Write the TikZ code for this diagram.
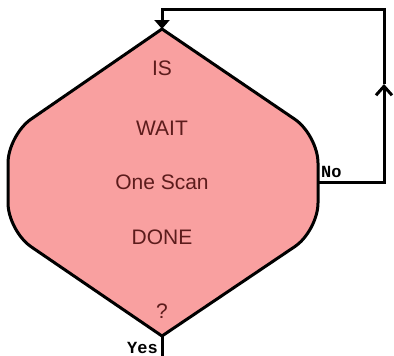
\documentclass[tikz,border=0pt]{standalone}
\usepackage{fontspec}
\setmainfont{Liberation Sans}
\newfontfamily\monobold{Liberation Mono}
\usetikzlibrary{arrows.meta,calc}
\definecolor{decfill}{HTML}{F9A0A0}
\definecolor{dectext}{HTML}{5C1C1C}
\tikzset{
  decline/.style={line width=3pt, line join=miter, draw=black},
  dectxt/.style={text=dectext, font=\fontsize{21}{24}\selectfont, inner sep=0pt, anchor=center},
  branchlbl/.style={font=\monobold\bfseries\fontsize{17}{19}\selectfont, inner sep=0pt, text=black},
  flow/.style={line width=3pt, line join=miter, line cap=butt}
}
\begin{document}
\begin{tikzpicture}[x=1pt,y=-1pt]
\useasboundingbox (0,0) rectangle (394,356);
\def\r{28pt}
\coordinate (T) at (162,29);
\coordinate (UR) at (318,135);
\coordinate (LR) at (318,231);
\coordinate (B) at (162,336);
\coordinate (LL) at (8,231);
\coordinate (UL) at (8,135);
\coordinate (E) at (318,182);
\coordinate (n1) at (384,182);
\coordinate (nm) at (384,84);
\coordinate (n2) at (384,9);
\coordinate (n3) at (162,9);
\coordinate (yend) at (162,356);
% corner points
\coordinate (URa) at ($(UR)!\r!(T)$);  \coordinate (URb) at ($(UR)!\r!(LR)$);
\coordinate (LRa) at ($(LR)!\r!(UR)$); \coordinate (LRb) at ($(LR)!\r!(B)$);
\coordinate (LLa) at ($(LL)!\r!(B)$);  \coordinate (LLb) at ($(LL)!\r!(UL)$);
\coordinate (ULa) at ($(UL)!\r!(LL)$); \coordinate (ULb) at ($(UL)!\r!(T)$);
\filldraw[decline, fill=decfill]
  (T) -- (URa) .. controls ($(URa)!0.55!(UR)$) and ($(URb)!0.55!(UR)$) .. (URb)
  -- (LRa) .. controls ($(LRa)!0.55!(LR)$) and ($(LRb)!0.55!(LR)$) .. (LRb)
  -- (B) -- (LLa) .. controls ($(LLa)!0.55!(LL)$) and ($(LLb)!0.55!(LL)$) .. (LLb)
  -- (ULa) .. controls ($(ULa)!0.55!(UL)$) and ($(ULb)!0.55!(UL)$) .. (ULb) -- cycle;
\node[dectxt] (t1) at (162,68) {IS};
\node[dectxt] (t2) at (162,128) {WAIT};
\node[dectxt] (t3) at (162,182) {One Scan};
\node[dectxt] (t4) at (162,237) {DONE};
\node[dectxt] (t5) at (162,311) {?};
\draw[flow, -{Straight Barb[width=16pt,length=9pt]}] (E) -- (n1) -- (nm);
\draw[flow, -{Triangle[width=15pt,length=9pt]}] (nm) -- (n2) -- (n3) -- (T);
\draw[flow] (B) -- (yend);
\node[branchlbl, anchor=south west] (no) at (321,178) {No};
\node[branchlbl, anchor=south east] (yes) at (158,354) {Yes};
\end{tikzpicture}
\end{document}
